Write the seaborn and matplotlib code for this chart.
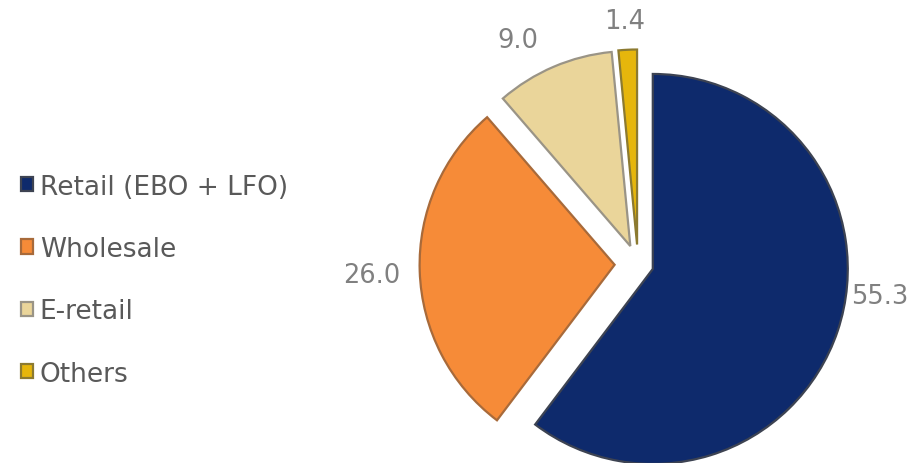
import numpy as np
import seaborn as sns
import matplotlib.pyplot as plt

channels = ["Retail (EBO + LFO)", "Wholesale", "E-retail", "Others"]
shares = [55.3, 26.0, 9.0, 1.4]
share_labels = ["55.3", "26.0", "9.0", "1.4"]

colors = ["#0e2a6c", "#f68b38", "#ead59a", "#e6b60c"]
edges = ["#3d4352", "#a86a3a", "#9a9486", "#8c7a30"]

sns.set_theme(style="white")
plt.rcParams['font.family'] = ['DejaVu Sans']

fig = plt.figure(figsize=(9.2, 4.64), dpi=100)
ax = fig.add_axes([0, 0, 1, 1])

wedges, _ = ax.pie(shares, colors=colors, startangle=90, counterclock=False,
                   explode=[0.08, 0.12, 0.1, 0.1],
                   wedgeprops=dict(linewidth=1.6))
for w, ec in zip(wedges, edges):
    w.set_edgecolor(ec)

# label placement: angle shift from wedge middle (deg), radius
lab_shift = [11, 0.5, 5, 0.5]
lab_rad = [1.25, 1.365, 1.305, 1.25]
for w, txt, sh, r in zip(wedges, share_labels, lab_shift, lab_rad):
    mid = np.deg2rad((w.theta1 + w.theta2) / 2 + sh)
    ax.text(r * np.cos(mid), r * np.sin(mid), txt, ha="center", va="center",
            fontsize=18.5, color="#808080")

# pie centre at (638, 265) px, radius 195 px
ax.set_xlim(-638 / 195, (920 - 638) / 195)
ax.set_ylim(-(464 - 265) / 195, 265 / 195)
ax.set_aspect("auto")
ax.axis("off")

fig.legend(wedges, channels, loc="center left", bbox_to_anchor=(0.023, 0.394),
           frameon=False, fontsize=19, labelcolor="#595959",
           handlelength=0.45, handleheight=0.45, handletextpad=0.25,
           labelspacing=1.38, borderpad=0, borderaxespad=0)

fig.savefig("out.png", dpi=100)
